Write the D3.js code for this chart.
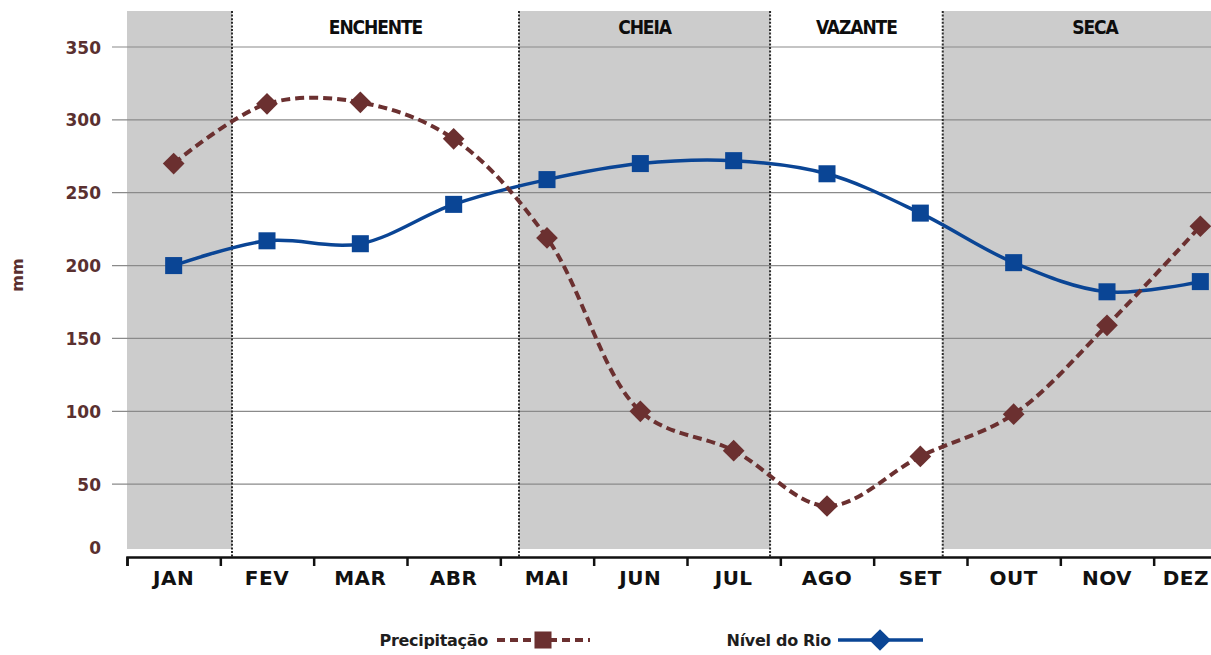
<!DOCTYPE html>
<html>
<head>
<meta charset="utf-8">
<script src="https://cdn.jsdelivr.net/npm/d3@7"></script>
<style>
  html, body { margin: 0; padding: 0; background: #fff; }
  svg { display: block; }
</style>
</head>
<body>
<script>
// Monthly data
const months = ["JAN", "FEV", "MAR", "ABR", "MAI", "JUN", "JUL", "AGO", "SET", "OUT", "NOV", "DEZ"];
const precipitacao = [270, 311, 312, 287, 219, 100, 73, 35, 69, 98, 159, 227];
const nivelRio = [200, 217, 215, 242, 259, 270, 272, 263, 236, 202, 182, 189];
const yTicks = [0, 50, 100, 150, 200, 250, 300, 350];

// Hydrological periods, in month units (0 = start of JAN, 12 = end of DEZ)
const seasonNames = ["", "ENCHENTE", "CHEIA", "VAZANTE", "SECA"];
const seasonStart = [0, 1.125, 4.2, 6.89, 8.74];
const seasonEnd = [1.125, 4.2, 6.89, 8.74, 12];
const seasonShaded = [true, false, true, false, true];

const W = 1211, H = 655;
const svg = d3.select("body").append("svg").attr("width", W).attr("height", H);

const plotLeft = 127, plotRight = 1247, plotTop = 11, shadeBottom = 549, axisY = 557;
const x = d3.scaleLinear().domain([0, 12]).range([plotLeft, plotRight]);
const y = d3.scaleLinear().domain([0, 350]).range([axisY, 47]);

const brown = "#6b3030";
const blue = "#0a4595";
const labelFont = "'DejaVu Sans', 'Open Sans', sans-serif";
const seasonFont = "'DejaVu Sans Condensed', 'DejaVu Sans', sans-serif";

// Shaded periods
svg.append("g").selectAll("rect")
  .data(d3.range(seasonNames.length).filter(i => seasonShaded[i]))
  .join("rect")
  .attr("x", i => x(seasonStart[i]))
  .attr("y", plotTop)
  .attr("width", i => x(seasonEnd[i]) - x(seasonStart[i]))
  .attr("height", shadeBottom - plotTop)
  .attr("fill", "#cccccc");

// Horizontal gridlines
svg.append("g").selectAll("line")
  .data(yTicks.filter(d => d > 0))
  .join("line")
  .attr("x1", 112).attr("x2", W)
  .attr("y1", d => y(d)).attr("y2", d => y(d))
  .attr("stroke", "#8a8a8a").attr("stroke-width", 1.2);

// Dotted period dividers
svg.append("g").selectAll("line")
  .data(seasonStart.slice(1))
  .join("line")
  .attr("x1", d => x(d)).attr("x2", d => x(d))
  .attr("y1", plotTop).attr("y2", axisY)
  .attr("stroke", "#2a2a2a").attr("stroke-width", 2)
  .attr("stroke-dasharray", "2,1.6");

// Period titles
svg.append("g").selectAll("text")
  .data(d3.range(seasonNames.length).filter(i => seasonNames[i]))
  .join("text")
  .attr("x", i => (x(seasonStart[i]) + x(seasonEnd[i])) / 2)
  .attr("y", 34)
  .attr("text-anchor", "middle")
  .attr("font-family", seasonFont)
  .attr("font-weight", "bold")
  .attr("font-size", 19)
  .attr("letter-spacing", -1.1)
  .attr("fill", "#0d0d0d")
  .text(i => seasonNames[i]);

// Y axis labels
const yAxis = svg.append("g")
  .attr("transform", `translate(101,0)`)
  .call(d3.axisLeft(y).tickValues(yTicks).tickSize(0).tickPadding(0));
yAxis.select(".domain").remove();
yAxis.selectAll("text")
  .attr("font-family", labelFont)
  .attr("font-weight", 700)
  .attr("font-size", 17)
  .attr("fill", "#5a3030")
  .attr("dy", d => d === 0 ? "-0.2em" : "0.36em");

svg.append("text")
  .attr("transform", "translate(23,275) rotate(-90)")
  .attr("text-anchor", "middle")
  .attr("font-family", labelFont)
  .attr("font-weight", 700)
  .attr("font-size", 16)
  .attr("fill", "#5a3030")
  .text("mm");

// X axis: boundary ticks and month labels
const xAxis = svg.append("g")
  .attr("transform", `translate(0,${axisY})`)
  .call(d3.axisBottom(x).tickValues(d3.range(0, 13)).tickSize(9).tickFormat(""));
xAxis.select(".domain").attr("stroke", "#111").attr("stroke-width", 2.5);
xAxis.selectAll(".tick line").attr("stroke", "#111").attr("stroke-width", 2.5);

const monthLabels = svg.append("g").selectAll("text")
  .data(months)
  .join("text")
  .attr("x", (d, i) => x(i + 0.5))
  .attr("y", 585)
  .attr("text-anchor", "middle")
  .attr("font-family", labelFont)
  .attr("font-weight", 700)
  .attr("font-size", 20)
  .attr("letter-spacing", 0.5)
  .attr("fill", "#111")
  .text(d => d);

// Keep labels that would run past the right edge inside the drawing
monthLabels.each(function () {
  const box = this.getBBox();
  const overflow = box.x + box.width - (W - 2);
  if (overflow > 0) d3.select(this).attr("x", +d3.select(this).attr("x") - overflow);
});

// Series lines
const line = d3.line()
  .x((d, i) => x(i + 0.5))
  .y(d => y(d))
  .curve(d3.curveCatmullRom.alpha(0.5));

svg.append("path")
  .datum(nivelRio)
  .attr("d", line)
  .attr("fill", "none")
  .attr("stroke", blue)
  .attr("stroke-width", 3.5);

svg.append("path")
  .datum(precipitacao)
  .attr("d", line)
  .attr("fill", "none")
  .attr("stroke", brown)
  .attr("stroke-width", 4)
  .attr("stroke-dasharray", "9,5");

// Markers
const diamond = d3.symbol().type(d3.symbolDiamond2).size(300);
const square = d3.symbol().type(d3.symbolSquare).size(290);

svg.append("g").selectAll("path")
  .data(nivelRio)
  .join("path")
  .attr("transform", (d, i) => `translate(${x(i + 0.5)},${y(d)})`)
  .attr("d", square)
  .attr("fill", blue);

svg.append("g").selectAll("path")
  .data(precipitacao)
  .join("path")
  .attr("transform", (d, i) => `translate(${x(i + 0.5)},${y(d)})`)
  .attr("d", diamond)
  .attr("fill", brown);

// Legend
const legend = svg.append("g")
  .attr("font-family", labelFont).attr("font-weight", 700)
  .attr("font-size", 16).attr("letter-spacing", -0.3).attr("fill", "#1e1e1e");
legend.append("text").attr("x", 488).attr("y", 646).attr("text-anchor", "end").text("Precipitação");
legend.append("line").attr("x1", 497).attr("x2", 590).attr("y1", 640).attr("y2", 640)
  .attr("stroke", brown).attr("stroke-width", 4).attr("stroke-dasharray", "8,5");
legend.append("path").attr("transform", "translate(543,640)").attr("d", square).attr("fill", brown);

legend.append("text").attr("x", 831).attr("y", 646).attr("text-anchor", "end").text("Nível do Rio");
legend.append("line").attr("x1", 838).attr("x2", 923).attr("y1", 640).attr("y2", 640)
  .attr("stroke", blue).attr("stroke-width", 3.5);
legend.append("path").attr("transform", "translate(880,640)").attr("d", diamond).attr("fill", blue);
</script>
</body>
</html>
